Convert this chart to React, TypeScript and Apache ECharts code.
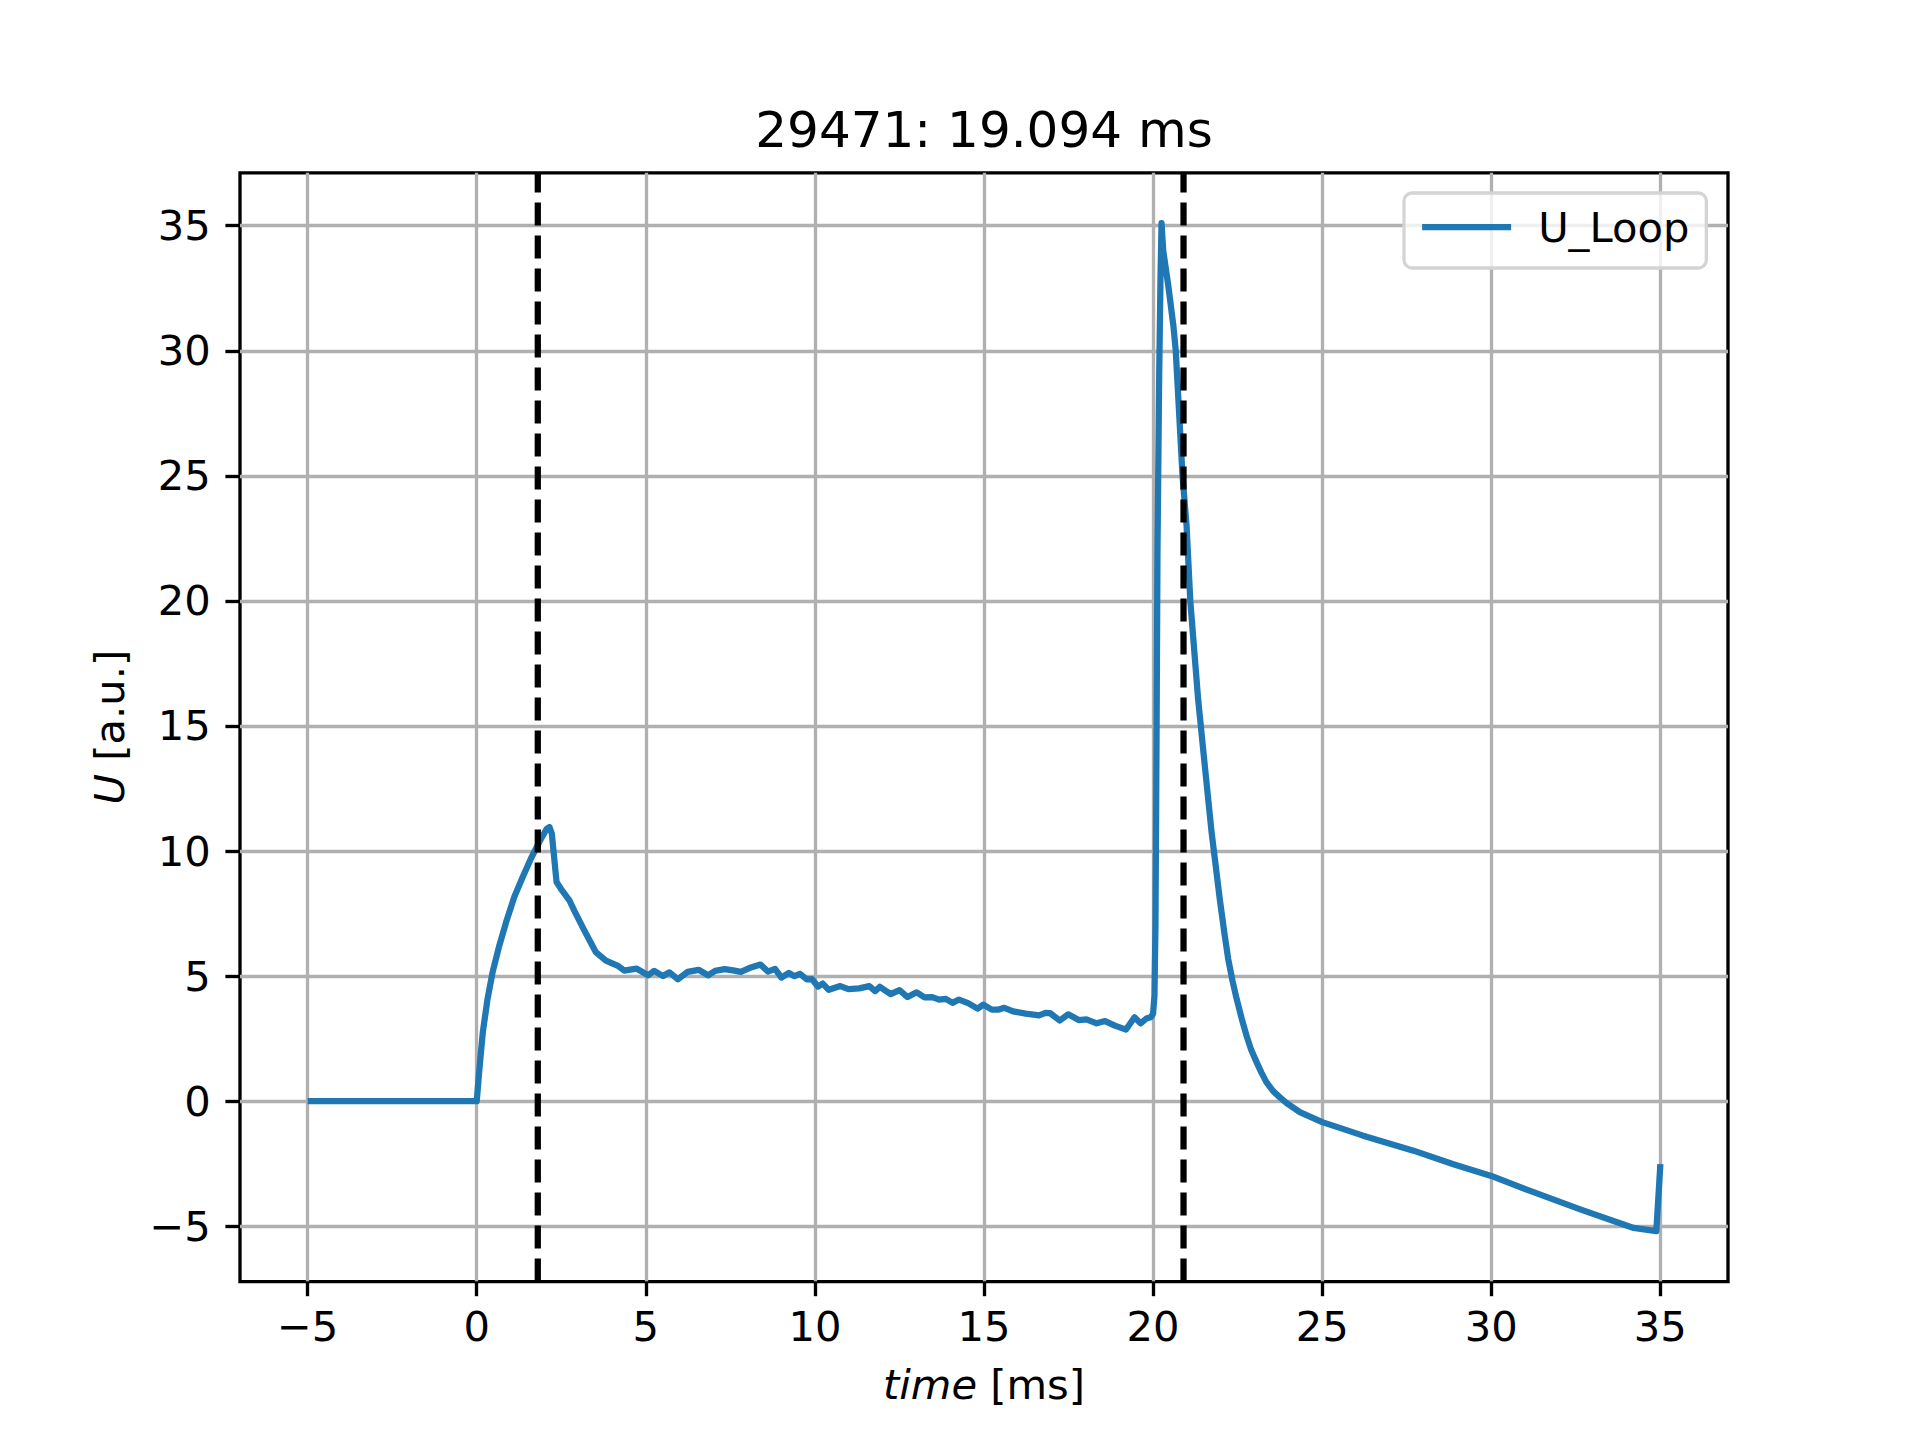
import {useEffect, useRef} from "react";
import * as echarts from "echarts";

const timeMs = [
    -5, 0, 0.08, 0.18, 0.32, 0.47, 0.67, 0.87, 1.11, 1.36, 1.6, 1.85, 2.07, 2.15, 2.22, 2.36, 2.49, 2.74, 2.88, 3.18,
    3.52, 3.82, 4.16, 4.36, 4.72, 5.07, 5.25, 5.51, 5.7, 5.95, 6.24, 6.56, 6.84, 7.05, 7.33, 7.58, 7.81,
    8.06, 8.39, 8.61, 8.82, 9.01, 9.23, 9.39, 9.56, 9.76, 9.91, 10.09, 10.23, 10.41, 10.75, 10.99, 11.31,
    11.61, 11.78, 11.92, 12.24, 12.5, 12.74, 13.01, 13.24, 13.47, 13.67, 13.87, 14.07, 14.26, 14.53, 14.81,
    14.98, 15.23, 15.44, 15.6, 15.86, 16.23, 16.63, 16.82, 16.95, 17.24, 17.49, 17.8, 18.03, 18.33, 18.58,
    18.87, 19.2, 19.45, 19.63, 19.8, 19.93, 20.0, 20.04, 20.07, 20.1, 20.13, 20.18, 20.22, 20.25, 20.3,
    20.45, 20.6, 20.67, 20.87, 20.99, 21.1, 21.33, 21.53, 21.73, 21.97, 22.1, 22.22, 22.35, 22.47, 22.62,
    22.76, 22.9, 23.06, 23.2, 23.35, 23.55, 23.75, 23.95, 24.34, 25.0, 25.52, 26.21, 27.7, 28.88, 30.0,
    31.15, 32.63, 34.21, 34.88, 35.0,
];

const uLoop = [
    0, 0, 1.3, 2.76, 4.09, 5.16, 6.23, 7.16, 8.16, 8.96, 9.69, 10.36, 10.89, 10.96, 10.7, 8.76, 8.49, 8.03, 7.63, 6.83,
    5.96, 5.62, 5.42, 5.22, 5.3, 5.03, 5.21, 5.0, 5.15, 4.87, 5.17, 5.25, 5.03, 5.21, 5.28, 5.23, 5.17,
    5.32, 5.46, 5.18, 5.29, 4.94, 5.13, 5.0, 5.09, 4.87, 4.88, 4.58, 4.7, 4.45, 4.6, 4.48, 4.51,
    4.6, 4.4, 4.57, 4.28, 4.44, 4.16, 4.35, 4.15, 4.16, 4.06, 4.09, 3.93, 4.06, 3.92, 3.7,
    3.86, 3.66, 3.66, 3.73, 3.59, 3.5, 3.43, 3.53, 3.52, 3.22, 3.47, 3.24, 3.27, 3.11, 3.2,
    3.02, 2.86, 3.35, 3.11, 3.3, 3.35, 3.5, 4.2, 7, 14, 22, 29, 33, 35.1, 34.0,
    32.6, 31.0, 30.0, 25.0, 23.0, 20.0, 16.1, 13.4, 10.75, 8.1, 6.8, 5.69, 4.8, 4.09, 3.3,
    2.63, 2.05, 1.56, 1.15, 0.76, 0.4, 0.15, -0.08, -0.44, -0.84, -1.07, -1.38, -1.98, -2.52, -2.99,
    -3.59, -4.33, -5.07, -5.2, -2.52,
];

const markerTimes = [1.806, 20.9];
const xTicks = [-5, 0, 5, 10, 15, 20, 25, 30, 35];
const yTicks = [-5, 0, 5, 10, 15, 20, 25, 30, 35];
const xMin = -7, xMax = 37;
const yMin = -7.215, yMax = 37.115;

const FONT = "DejaVu Sans";
const fmt = (v: number) => String(v).replace("-", "\u2212");

export default function App() {
    const domRef = useRef<HTMLDivElement>(null);

    useEffect(() => {
        if (!domRef.current) return;
        const chart = echarts.init(domRef.current, null, {renderer: "svg"});
        const tickStyle = {show: true, inside: false, length: 14.6, lineStyle: {color: "#000", width: 3.33}};
        const nameStyle = {
            fontFamily: FONT, fontSize: 41.67, color: "#000",
            rich: {i: {fontFamily: FONT, fontSize: 41.67, fontStyle: "italic", color: "#000"}},
        };
        chart.setOption({
            animation: false,
            backgroundColor: "#fff",
            title: {
                text: "29471: 19.094 ms",
                left: 979,
                top: 100,
                textAlign: "center",
                textStyle: {fontFamily: FONT, fontSize: 50, fontWeight: "normal", color: "#000"},
            },
            legend: {
                data: ["U_Loop"],
                left: 1404,
                top: 193,
                orient: "vertical",
                padding: [9, 17, 16, 15],
                itemWidth: 89,
                itemHeight: 50,
                backgroundColor: "rgba(255,255,255,0.8)",
                borderColor: "#d4d4d4",
                borderWidth: 3.3,
                borderRadius: 8,
                lineStyle: {width: 6.25},
                itemStyle: {opacity: 0},
                textStyle: {fontFamily: FONT, fontSize: 41.67, color: "#000", lineHeight: 50, padding: [0, 0, 0, 22]},
            },
            grid: {
                left: 240, right: 192, top: 172.8, bottom: 158.4,
                show: true, borderColor: "#000", borderWidth: 3.33, backgroundColor: "transparent",
            },
            xAxis: {
                type: "value",
                min: xMin,
                max: xMax,
                name: "{i|time} [ms]",
                nameLocation: "middle",
                nameGap: 82,
                nameTextStyle: nameStyle,
                axisLine: {show: false, onZero: false},
                axisTick: {...tickStyle, customValues: xTicks},
                axisLabel: {customValues: xTicks, margin: 24, fontFamily: FONT, fontSize: 41.67, color: "#000", formatter: fmt},
                splitLine: {show: true, lineStyle: {color: "#b0b0b0", width: 3.33}},
            },
            yAxis: {
                type: "value",
                min: yMin,
                max: yMax,
                name: "{i|U} [a.u.]",
                nameLocation: "middle",
                nameRotate: 90,
                nameGap: 110,
                nameTextStyle: nameStyle,
                axisLine: {show: false, onZero: false},
                axisTick: {...tickStyle, customValues: yTicks},
                axisLabel: {customValues: yTicks, margin: 29.2, fontFamily: FONT, fontSize: 41.67, color: "#000", formatter: fmt},
                splitLine: {show: true, lineStyle: {color: "#b0b0b0", width: 3.33}},
            },
            series: [
                {
                    name: "U_Loop",
                    type: "line",
                    symbol: "none",
                    data: timeMs.map((t, i) => [t, uLoop[i]]),
                    lineStyle: {color: "#1f77b4", width: 6.25, join: "round", cap: "butt"},
                    itemStyle: {color: "#1f77b4"},
                },
                ...markerTimes.map(t => ({
                    name: "marker",
                    type: "line",
                    symbol: "none",
                    data: [[t, yMin], [t, yMax]],
                    lineStyle: {color: "#000", width: 6.25, type: [23, 10], cap: "butt"},
                    silent: true,
                })),
            ],
        });
        return () => chart.dispose();
    }, []);

    return <div ref={domRef} style={{position: "absolute", left: 0, top: 0, width: 1920, height: 1440}} />;
}
